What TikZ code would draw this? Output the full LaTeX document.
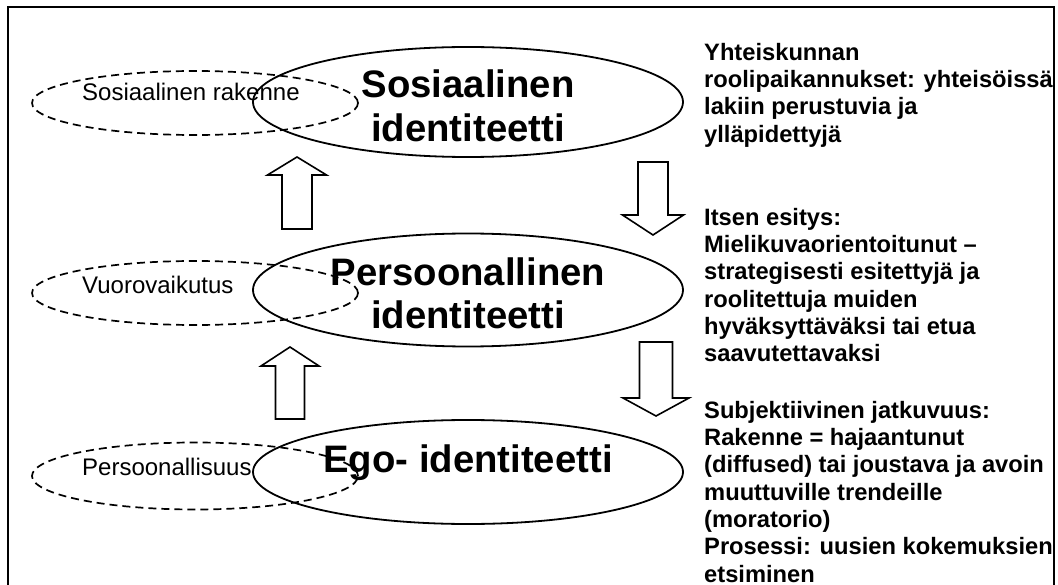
\documentclass[tikz,border=0pt]{standalone}
\usepackage{fontspec}
\setmainfont{Liberation Sans}
\usetikzlibrary{shapes.geometric}
\begin{document}
\begin{tikzpicture}[x=1pt,y=-1pt,
  solidell/.style={ellipse, draw, line width=1.8pt, inner sep=0pt, minimum width=430pt},
  dashell/.style={ellipse, draw, line width=1.7pt, dash pattern=on 8pt off 5pt, inner sep=0pt, minimum width=326pt, minimum height=64pt},
  biglabel/.style={font=\bfseries\fontsize{38.3}{43.5}\selectfont, align=center, inner sep=0pt},
  smalllabel/.style={font=\fontsize{24}{27.6}\selectfont, inner sep=0pt, anchor=base west},
  desc/.style={font=\bfseries\fontsize{23.7}{27.3}\selectfont, align=left, inner sep=0pt, anchor=north west},
  blockarrow/.style={draw, line width=1.6pt, fill=white, line join=miter},
  frameline/.style={line width=2.3pt}]
\useasboundingbox (0,0) rectangle (1058,585);
% frame
\draw[frameline] (8,590) -- (8,7) -- (1054,7) -- (1054,590);
% solid ellipses
\node[solidell, minimum height=110pt] (sos) at (468,102) {};
\node[solidell, minimum height=113pt] (per) at (468,290) {};
\node[solidell, minimum height=104pt] (ego) at (468,472) {};
% dashed ellipses
\node[dashell] (rak) at (195,103) {};
\node[dashell] (vuo) at (195,293) {};
\node[dashell, minimum height=67pt] (pers) at (195,476) {};
% small labels
\node[smalllabel] (trak) at (82,101) {Sosiaalinen rakenne};
\node[smalllabel] (tvuo) at (82,294) {Vuorovaikutus};
\node[smalllabel] (tpers) at (82,475) {Persoonallisuus};
% block arrows
\coordinate (ua1) at (297,157);
\coordinate (ua2) at (290,347);
\coordinate (da1) at (653,235);
\coordinate (da2) at (656,416);
\draw[blockarrow] (ua1) -- ++(29.5,18) -- ++(-14.5,0) -- ++(0,54) -- ++(-30,0) -- ++(0,-54) -- ++(-14.5,0) -- cycle;
\draw[blockarrow] (ua2) -- ++(29,19) -- ++(-14.5,0) -- ++(0,53) -- ++(-29,0) -- ++(0,-53) -- ++(-14.5,0) -- cycle;
\draw[blockarrow] (da1) -- ++(30.5,-20) -- ++(-15.5,0) -- ++(0,-53) -- ++(-30,0) -- ++(0,53) -- ++(-15.5,0) -- cycle;
\draw[blockarrow] (da2) -- ++(33,-18) -- ++(-16.5,0) -- ++(0,-56) -- ++(-33,0) -- ++(0,56) -- ++(-16.5,0) -- cycle;
% big labels
\node[biglabel, anchor=north] (tsos) at (468,70) {Sosiaalinen\\identiteetti};
\node[biglabel, anchor=north] (tper) at (468,257.5) {Persoonallinen\\identiteetti};
\node[biglabel, anchor=base] (tego) at (468,472) {Ego- identiteetti};
% descriptions
\node[desc] (d1) at (704,43) {Yhteiskunnan\\roolipaikannukset: yhteisöissä\\lakiin perustuvia ja\\ylläpidettyjä};
\node[desc] (d2) at (704,208) {Itsen esitys:\\Mielikuvaorientoitunut –\\strategisesti esitettyjä ja\\roolitettuja muiden\\hyväksyttäväksi tai etua\\saavutettavaksi};
\node[desc] (d3) at (704,401) {Subjektiivinen jatkuvuus:\\Rakenne = hajaantunut\\(diffused) tai joustava ja avoin\\muuttuville trendeille\\(moratorio)\\Prosessi: uusien kokemuksien\\etsiminen};
\end{tikzpicture}
\end{document}
